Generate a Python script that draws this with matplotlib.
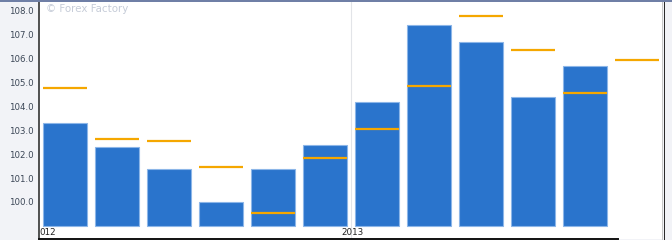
#!/usr/bin/env python3
"""Monthly actual vs forecast index bars (Forex Factory style)."""

import matplotlib

matplotlib.use("Agg")

import matplotlib.pyplot as plt
import numpy as np
from matplotlib.patches import Rectangle

# Jul 2012 .. Jun 2013; last month has only a forecast
months = ["Jul", "Aug", "Sep", "Oct", "Nov", "Dec", "Jan", "Feb", "Mar", "Apr", "May", "Jun"]
actual = [103.3, 102.3, 101.4, 100.0, 101.4, 102.4, 104.2, 107.4, 106.7, 104.4, 105.7, np.nan]
forecast = [104.75, 102.65, 102.55, 101.45, 99.55, 101.85, 103.05, 104.85, 107.8, 106.35, 104.55, 105.95]
first_year_label = "012"  # "2012" cut off by the left edge of the plot
new_year_label = "2013"
new_year_start = 6  # index of January 2013 in the month list
ytick_values = [100.0, 101.0, 102.0, 103.0, 104.0, 105.0, 106.0, 107.0, 108.0]
baseline = 99.0

BAR_COLOR = "#2a74cc"
BAR_EDGE = "#8cb6e8"
FORECAST_COLOR = "#f5a700"
TEXT_COLOR = "#3b4656"
GUTTER = "#f2f3f7"


def main() -> int:
    fig = plt.figure(figsize=(6.72, 2.4), dpi=100, facecolor=GUTTER)
    ax = fig.add_axes([39 / 672, 1 / 240, 624 / 672, 237 / 240])
    ax.set_facecolor("white")

    x = np.arange(len(months))
    width = 0.83
    heights = np.array(actual) - baseline
    ax.bar(x, heights, width=width, bottom=baseline, color=BAR_COLOR,
           edgecolor=BAR_EDGE, linewidth=0.8, zorder=2)
    ax.hlines(forecast, x - width / 2, x + width / 2, colors=FORECAST_COLOR,
              linewidth=1.6, zorder=3)

    ax.set_xlim(-0.5, 11.5)
    ax.set_ylim(98.45, 108.37)

    # year separator and labels
    pos = new_year_start - 0.5
    ax.axvline(pos, color="#e2e4e8", linewidth=0.8, zorder=1)
    ax.text(pos + 0.03, 98.55, new_year_label, ha="center", va="bottom", fontsize=6.3,
            color="#222222", zorder=4)
    ax.text(-0.5, 98.55, first_year_label, ha="left", va="bottom", fontsize=6.3,
            color="#222222", zorder=4)

    ax.set_xticks([])
    ax.set_yticks(ytick_values)
    ax.set_yticklabels([f"{v:.1f}" for v in ytick_values], fontsize=6.2, color=TEXT_COLOR)
    ax.tick_params(axis="y", length=0, pad=4)

    for side in ("top", "right"):
        ax.spines[side].set_visible(False)
    ax.spines["left"].set_color("#333333")
    ax.spines["left"].set_linewidth(1.2)
    ax.spines["bottom"].set_color("#111111")
    ax.spines["bottom"].set_linewidth(1.4)
    ax.spines["bottom"].set_bounds(-0.5, 10.63)

    ax.text(0.012, 0.99, "\u00a9 Forex Factory", transform=ax.transAxes, ha="left",
            va="top", fontsize=7.4, color="#c6ccd8", zorder=5)

    # frame decorations: top band and right border
    fig.patches.append(Rectangle((0, 238 / 240), 1, 2 / 240, transform=fig.transFigure,
                                 facecolor="#6f7fa6", edgecolor="none"))
    fig.patches.append(Rectangle((661.5 / 672, 0), 1 / 672, 238 / 240, transform=fig.transFigure,
                                 facecolor="#c8c8c8", edgecolor="none"))
    fig.patches.append(Rectangle((663.5 / 672, 0), 1.5 / 672, 238 / 240, transform=fig.transFigure,
                                 facecolor="#2a2a2a", edgecolor="none"))

    fig.savefig("out.png", dpi=100, facecolor=GUTTER)
    plt.close(fig)
    return 0


if __name__ == "__main__":
    raise SystemExit(main())
